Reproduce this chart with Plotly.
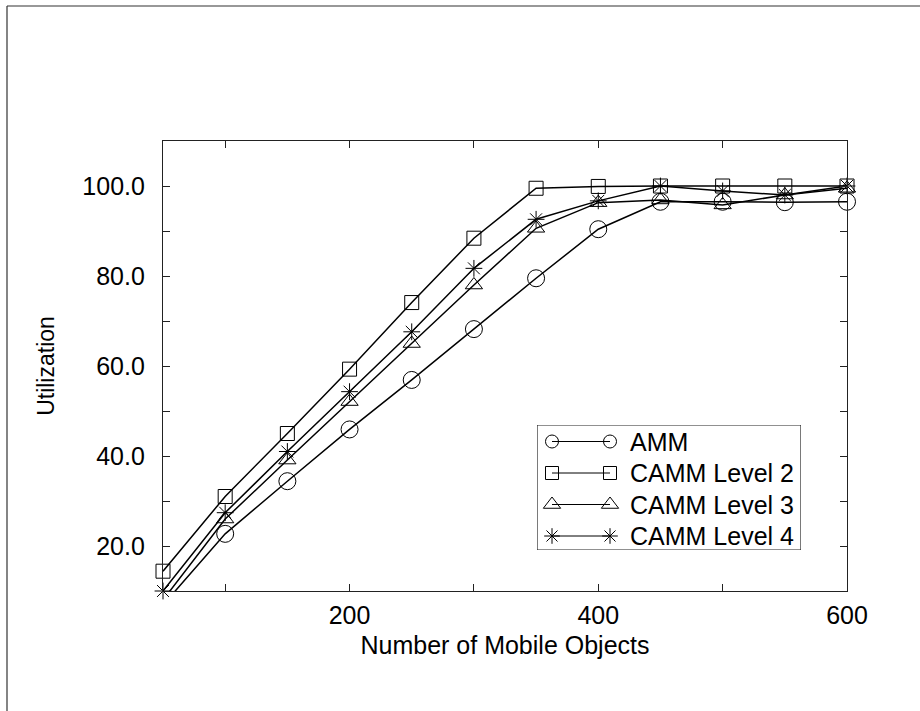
import plotly.graph_objects as go

# ---- data ----
objects = [50, 100, 150, 200, 250, 300, 350, 400, 450, 500, 550, 600]
amm = [6.9, 22.7, 34.4, 45.9, 56.9, 68.2, 79.5, 90.4, 96.5, 96.5, 96.4, 96.5]
camm_l2 = [14.4, 31.0, 45.0, 59.3, 74.1, 88.4, 99.5, 99.9, 100.0, 100.0, 100.0, 100.0]
camm_l3 = [8.0, 26.0, 39.1, 52.1, 65.0, 78.0, 90.6, 96.3, 96.9, 95.8, 98.0, 99.5]
camm_l4 = [10.0, 27.4, 41.0, 54.3, 67.6, 81.7, 92.6, 96.7, 100.0, 98.9, 98.0, 100.0]

series_names = ["AMM", "CAMM Level 2", "CAMM Level 3", "CAMM Level 4"]
x_tick_vals = [100, 200, 300, 400, 500, 600]
x_tick_text = ["", "200", "", "400", "", "600"]
y_tick_vals = [20, 30, 40, 50, 60, 70, 80, 90, 100]
y_tick_text = ["20.0", "", "40.0", "", "60.0", "", "80.0", "", "100.0"]

X_RANGE = [50, 600]
Y_RANGE = [10, 110]

FONT = "Arial, Liberation Sans, sans-serif"
symbols = ["circle-open", "square-open", "triangle-up-open", "asterisk-open"]
sizes = [17, 14, 15, 14]
leg_sizes = [13, 13, 15, 13]

fig = go.Figure()
all_series = [amm, camm_l2, camm_l3, camm_l4]
for name, ys, sym, sz in zip(series_names, all_series, symbols, sizes):
    op = [1 if Y_RANGE[0] <= v <= Y_RANGE[1] else 0 for v in ys]
    fig.add_trace(go.Scatter(
        x=objects, y=ys, name=name, mode="lines+markers",
        line=dict(color="black", width=1.5),
        marker=dict(symbol=sym, size=sz, color="black", opacity=op,
                    line=dict(color="black", width=1)),
        cliponaxis=False, showlegend=False,
    ))

# custom legend (two markers joined by a line, like the original)
LW, LH = 264, 125
rows = [16.5, 48.0, 79.5, 111.0]
for i, (name, sym, sz) in enumerate(zip(series_names, symbols, leg_sizes)):
    fig.add_trace(go.Scatter(
        x=[15, 73], y=[rows[i], rows[i]], mode="lines+markers",
        xaxis="x2", yaxis="y2",
        line=dict(color="black", width=1),
        marker=dict(symbol=sym, size=sz, color="black",
                    line=dict(color="black", width=1)),
        cliponaxis=False, showlegend=False, hoverinfo="skip",
    ))
    fig.add_annotation(x=91, y=rows[i], xref="x2", yref="y2", text=name,
                       showarrow=False, xanchor="left", yanchor="middle",
                       font=dict(family=FONT, size=25, color="black"))

fig.add_shape(type="rect", xref="x2", yref="y2", x0=0, x1=LW, y0=0, y1=LH,
              line=dict(color="#222", width=1.2))

# outer frame (top and left edges visible)
W, H = 920, 711
L, R, T, B = 163, 73, 141, 120
pw, ph = W - L - R, H - T - B
def px(xp):
    return (xp - L) / pw
def py(yp):
    return (H - B - yp) / ph
fig.add_shape(type="line", xref="paper", yref="paper",
              x0=px(7), x1=px(925), y0=py(6), y1=py(6),
              line=dict(color="#333", width=1.2))
fig.add_shape(type="line", xref="paper", yref="paper",
              x0=px(7), x1=px(7), y0=py(6), y1=py(720),
              line=dict(color="#333", width=1.2))

axis_common = dict(showgrid=False, zeroline=False, showline=True,
                   linecolor="#222", linewidth=1.2, mirror="ticks",
                   ticks="inside", ticklen=7, tickwidth=1, tickcolor="#222",
                   tickfont=dict(family=FONT, size=25, color="black"))

fig.update_layout(
    width=W, height=H,
    margin=dict(l=L, r=R, t=T, b=B),
    paper_bgcolor="white", plot_bgcolor="white",
    font=dict(family=FONT, size=25, color="black"),
    xaxis=dict(range=X_RANGE, tickvals=x_tick_vals, ticktext=x_tick_text,
               title=dict(text="Number of Mobile Objects",
                          font=dict(family=FONT, size=25, color="black"),
                          standoff=8),
               ticklabelstandoff=2, **axis_common),
    yaxis=dict(range=Y_RANGE, tickvals=y_tick_vals, ticktext=y_tick_text,
               title=dict(text="Utilization",
                          font=dict(family=FONT, size=23, color="black"),
                          standoff=21),
               ticklabelstandoff=12, **axis_common),
    xaxis2=dict(domain=[px(537), px(801)], range=[0, LW], visible=False,
                anchor="y2", fixedrange=True),
    yaxis2=dict(domain=[py(550), py(425)], range=[LH, 0], visible=False,
                anchor="x2", fixedrange=True),
)

fig.write_html("out.html")
